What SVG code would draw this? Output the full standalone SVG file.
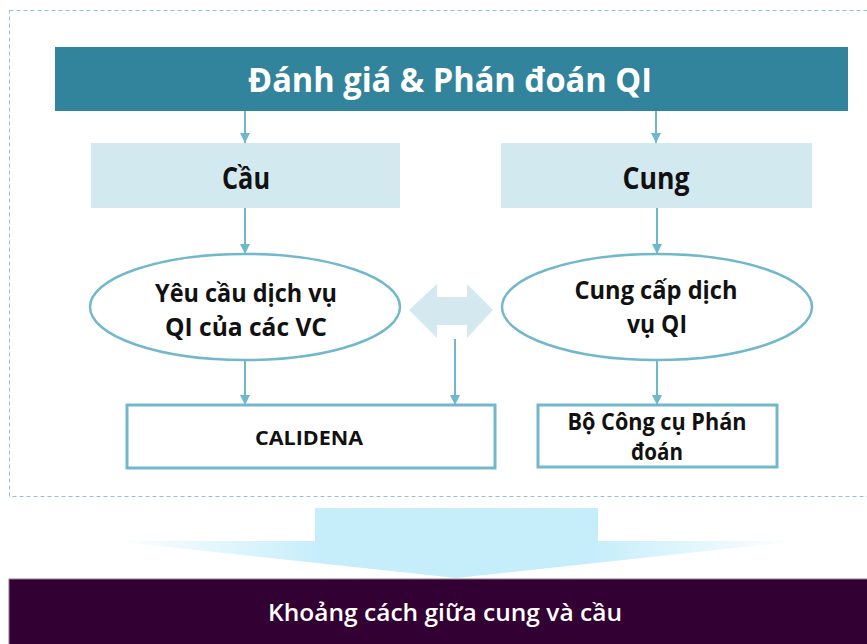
<svg xmlns="http://www.w3.org/2000/svg" width="867" height="644" viewBox="0 0 867 644">
<style>
  .t { font-family: "Open Sans", "Noto Sans", "Liberation Sans", sans-serif; font-weight: bold; text-anchor: middle; }
  .dark { fill: #111111; }
  .white { fill: #ffffff; }
  .conn { stroke: #6fb8cb; stroke-width: 2; fill: none; marker-end: url(#ah); }
  .lightbox { fill: #d2e9ef; }
  .oval { fill: #ffffff; stroke: #72b8cc; stroke-width: 2.5; }
  .outbox { fill: #ffffff; stroke: #72b8cc; stroke-width: 3; }
</style>
<defs>
  <marker id="ah" viewBox="0 0 10 10" refX="10" refY="5" markerWidth="5" markerHeight="5" markerUnits="strokeWidth" orient="auto">
    <path d="M0,0 L10,5 L0,10 Z" fill="#6fb8cb"/>
  </marker>
  <linearGradient id="fade" x1="113" y1="0" x2="800" y2="0" gradientUnits="userSpaceOnUse">
    <stop offset="0" stop-color="#c6eefa" stop-opacity="0"/>
    <stop offset="0.3" stop-color="#c6eefa" stop-opacity="1"/>
    <stop offset="0.7" stop-color="#c6eefa" stop-opacity="1"/>
    <stop offset="1" stop-color="#c6eefa" stop-opacity="0"/>
  </linearGradient>
</defs>
<rect width="867" height="644" fill="#ffffff"/>
<rect x="9.5" y="10.5" width="870" height="486" fill="none" stroke="#8fc4d0" stroke-width="1" stroke-dasharray="4 3"/>

<g id="connectors">
  <line class="conn" x1="245" y1="111" x2="245" y2="143"/>
  <line class="conn" x1="656" y1="111" x2="656" y2="143"/>
  <line class="conn" x1="245" y1="208" x2="245" y2="254"/>
  <line class="conn" x1="657" y1="208" x2="657" y2="254"/>
  <line class="conn" x1="245" y1="360" x2="245" y2="405"/>
  <line class="conn" x1="657" y1="359" x2="657" y2="405"/>
  <line class="conn" x1="455" y1="339" x2="455" y2="405"/>
  <path id="double-arrow" d="M409,310 L437,284 L437,297 L467,297 L467,284 L493,310 L467,338 L467,325 L437,325 L437,338 Z" fill="#d4e9ef"/>
</g>

<g id="banner">
  <rect x="55" y="47" width="793" height="64" fill="#31849b"/>
  <text class="t white" x="450" y="92" font-size="34" textLength="404" lengthAdjust="spacingAndGlyphs">Đánh giá &amp; Phán đoán QI</text>
</g>

<g id="cau">
  <rect class="lightbox" x="91" y="143" width="309" height="65"/>
  <text class="t dark" x="246" y="189" font-size="30" textLength="48" lengthAdjust="spacingAndGlyphs">Cầu</text>
</g>

<g id="cung">
  <rect class="lightbox" x="501" y="143" width="311" height="65"/>
  <text class="t dark" x="656" y="189" font-size="30" textLength="67" lengthAdjust="spacingAndGlyphs">Cung</text>
</g>

<g id="yeu-cau">
  <ellipse class="oval" cx="245" cy="307" rx="155" ry="53"/>
  <text class="t dark" x="246" y="302" font-size="25" textLength="182" lengthAdjust="spacingAndGlyphs">Yêu cầu dịch vụ</text>
  <text class="t dark" x="246" y="336" font-size="25" textLength="162" lengthAdjust="spacingAndGlyphs">QI của các VC</text>
</g>

<g id="cung-cap">
  <ellipse class="oval" cx="657" cy="307" rx="155" ry="53"/>
  <text class="t dark" x="656" y="299" font-size="25" textLength="163" lengthAdjust="spacingAndGlyphs">Cung cấp dịch</text>
  <text class="t dark" x="657" y="333" font-size="25" textLength="60" lengthAdjust="spacingAndGlyphs">vụ QI</text>
</g>

<g id="calidena">
  <rect class="outbox" x="127" y="405" width="368" height="63"/>
  <text class="t dark" x="309" y="445" font-size="20" textLength="108" lengthAdjust="spacingAndGlyphs">CALIDENA</text>
</g>

<g id="bo-cong-cu">
  <rect class="outbox" x="538" y="405" width="239" height="62"/>
  <text class="t dark" x="657" y="430" font-size="23" textLength="179" lengthAdjust="spacingAndGlyphs">Bộ Công cụ Phán</text>
  <text class="t dark" x="657" y="460" font-size="23" textLength="52" lengthAdjust="spacingAndGlyphs">đoán</text>
</g>

<g id="down-arrow">
  <rect x="315" y="508" width="283" height="34" fill="#c6eefa"/>
  <polygon points="113,541 800,541 456,578" fill="url(#fade)"/>
</g>

<g id="gap">
  <rect x="9" y="579" width="860" height="66" fill="#330033" stroke="#8a7f8a" stroke-width="1"/>
  <text class="t white" x="445" y="621" font-size="24" style="font-weight:600" textLength="354" lengthAdjust="spacingAndGlyphs">Khoảng cách giữa cung và cầu</text>
</g>
</svg>
